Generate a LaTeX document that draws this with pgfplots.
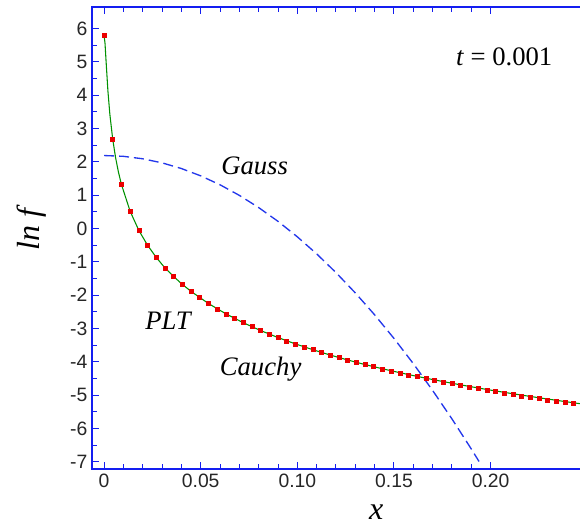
\documentclass[border=0pt]{standalone}
\usepackage{pgfplots}
\pgfplotsset{compat=1.18}
\usepackage{pgfplotstable}
\usepackage{fontspec}
\setmainfont{Liberation Serif}
\newfontfamily\arial{Liberation Sans}
\definecolor{axisblue}{RGB}{20,30,240}
\definecolor{gaussblue}{RGB}{35,55,235}
\definecolor{pltgreen}{RGB}{0,145,0}
\definecolor{cauchyred}{RGB}{235,0,0}

\pgfplotstableread{
x y
0 2.19
0.01 2.166
0.02 2.092
0.03 1.970
0.04 1.800
0.05 1.580
0.06 1.312
0.07 0.994
0.08 0.628
0.09 0.214
0.10 -0.250
0.11 -0.762
0.12 -1.324
0.13 -1.934
0.14 -2.592
0.15 -3.300
0.16 -4.056
0.17 -4.862
0.18 -5.716
0.19 -6.618
0.194 -6.993
}\gauss

\pgfplotstableread{
x y
0 5.80
0.0005 5.562
0.001 5.069
0.002 4.131
0.003 3.431
0.0045 2.673
0.006 2.117
0.0075 1.680
0.009 1.321
0.0135 0.516
0.018 -0.057
0.0225 -0.502
0.027 -0.867
0.0315 -1.183
0.036 -1.441
0.0405 -1.677
0.045 -1.887
0.054 -2.251
0.063 -2.560
0.072 -2.827
0.081 -3.063
0.09 -3.273
0.099 -3.464
0.108 -3.638
0.117 -3.798
0.126 -3.946
0.135 -4.084
0.144 -4.210
0.153 -4.328
0.162 -4.440
0.171 -4.545
0.18 -4.645
0.189 -4.740
0.198 -4.832
0.207 -4.918
0.216 -5.001
0.225 -5.080
0.234 -5.157
0.243 -5.232
0.2475 -5.268
}\plt

\pgfplotstableread{
x y
0 5.80
0.0045 2.673
0.009 1.321
0.0135 0.516
0.018 -0.057
0.0225 -0.502
0.027 -0.867
0.0315 -1.183
0.036 -1.441
0.0405 -1.677
0.045 -1.887
0.0495 -2.077
0.054 -2.251
0.0585 -2.412
0.063 -2.560
0.0675 -2.698
0.072 -2.827
0.0765 -2.949
0.081 -3.063
0.0855 -3.171
0.09 -3.273
0.0945 -3.371
0.099 -3.464
0.1035 -3.553
0.108 -3.638
0.1125 -3.719
0.117 -3.798
0.1215 -3.873
0.126 -3.946
0.1305 -4.016
0.135 -4.084
0.1395 -4.150
0.144 -4.213
0.1485 -4.275
0.153 -4.334
0.1575 -4.392
0.162 -4.449
0.1665 -4.503
0.171 -4.557
0.1755 -4.609
0.18 -4.659
0.1845 -4.709
0.189 -4.757
0.1935 -4.804
0.198 -4.850
0.2025 -4.895
0.207 -4.939
0.2115 -4.982
0.216 -5.024
0.2205 -5.065
0.225 -5.106
0.2295 -5.145
0.234 -5.184
0.2385 -5.222
0.243 -5.260
0.2475 -5.296
}\cauchy

\begin{document}
\begin{tikzpicture}
\useasboundingbox (-69pt,-42.75pt) rectangle (366pt,351.75pt);
\begin{axis}[
  at={(0,0)}, anchor=south west,
  scale only axis, width=368pt, height=346.5pt,
  xmin=-0.00623, xmax=0.24762, ymin=-7.219, ymax=6.648,
  axis line style={draw=axisblue, line width=1.5pt},
  tick style={draw=axisblue, line width=0.75pt},
  major tick style={draw=axisblue, line width=0.75pt},
  minor tick style={draw=axisblue, line width=0.75pt},
  tick align=inside,
  xtick pos=both, ytick pos=left,
  major tick length=5.25pt, minor tick length=3.4pt,
  xtick={0,0.05,0.10,0.15,0.20},
  xticklabels={0,0.05,0.10,0.15,0.20},
  minor x tick num=4,
  ytick={-7,-6,-5,-4,-3,-2,-1,0,1,2,3,4,5,6},
  minor y tick num=1,
  ticklabel style={font=\arial\fontsize{14.5}{17}\selectfont, text=black!85},
  /pgf/number format/assume math mode=true,
  xlabel={\textit{x}},
  ylabel={\textit{ln f}},
  label style={font=\fontsize{24}{28}\selectfont},
  xlabel style={at={(axis description cs:0.579,-0.093)}, anchor=center},
  ylabel style={at={(axis description cs:-0.123,0.522)}, anchor=center, rotate=0},
  clip=true,
]
\addplot[gaussblue, line width=1pt, dash pattern=on 7.5pt off 3.75pt] table {\gauss};
\addplot[pltgreen, line width=0.8pt] table {\plt};
\addplot[only marks, mark=square*, mark size=1.5pt, cauchyred, mark options={draw=cauchyred, fill=cauchyred}] table {\cauchy};
\node[anchor=base, font=\fontsize{20}{24}\selectfont] at (axis cs:0.0779,1.62) {\textit{Gauss}};
\node[anchor=base, font=\fontsize{20}{24}\selectfont] at (axis cs:0.0335,-3.03) {\textit{PLT}};
\node[anchor=base, font=\fontsize{20}{24}\selectfont] at (axis cs:0.081,-4.40) {\textit{Cauchy}};
\node[anchor=base, font=\fontsize{20}{24}\selectfont] at (axis cs:0.2070,4.90) {\textit{t} = 0.001};
\end{axis}
\end{tikzpicture}
\end{document}
